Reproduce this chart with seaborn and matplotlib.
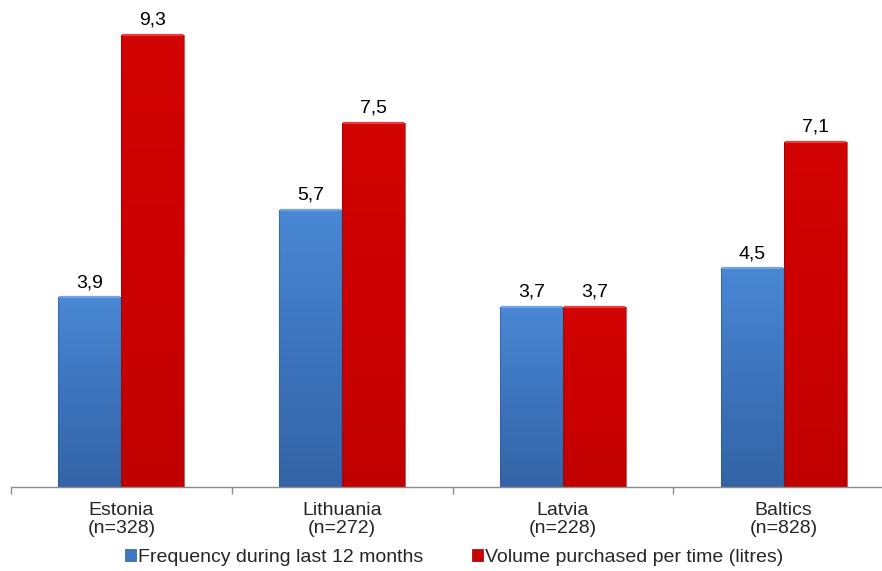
import numpy as np
import pandas as pd
import matplotlib
matplotlib.use("Agg")
import matplotlib.pyplot as plt
from matplotlib.patches import Patch
from matplotlib.colors import LinearSegmentedColormap
import seaborn as sns

countries = ["Estonia", "Lithuania", "Latvia", "Baltics"]
sample_sizes = ["(n=328)", "(n=272)", "(n=228)", "(n=828)"]
series_names = ["Frequency during last 12 months", "Volume purchased per time (litres)"]
frequency = [3.9, 5.7, 3.7, 4.5]
volume = [9.3, 7.5, 3.7, 7.1]

df = pd.DataFrame({
    "country": countries * 2,
    "series": [series_names[0]] * 4 + [series_names[1]] * 4,
    "value": frequency + volume,
})

sns.set_theme(style="white")
plt.rcParams["font.family"] = ["Liberation Sans", "DejaVu Sans"]

FS = 14
W, H = 882, 571
fig = plt.figure(figsize=(W / 100, H / 100), dpi=100)
ax = fig.add_axes([11 / W, (H - 487) / H, 883 / W, 486 / H])

blue_mid = "#3F78C2"
red_mid = "#CC0000"
sns.barplot(data=df, x="country", y="value", hue="series", order=countries,
            hue_order=series_names, palette=[blue_mid, red_mid], width=0.57,
            gap=0, legend=False, ax=ax, linewidth=0, saturation=1)

ax.set_ylim(0, 10)
ax.set_xlim(-0.5, 3.5)

# shaded fill for each bar, clipped to the bar rectangle
blue_cmap = LinearSegmentedColormap.from_list("b", ["#3464A6", "#3D74BD", "#4A88D4"])
red_cmap = LinearSegmentedColormap.from_list("r", ["#C00000", "#CC0000", "#D20404"])
grad = np.linspace(0, 1, 256).reshape(-1, 1)
for p in ax.patches:
    x0, y0 = p.get_x(), p.get_y()
    w, h = p.get_width(), p.get_height()
    is_blue = p.get_facecolor()[2] > 0.5
    cmap = blue_cmap if is_blue else red_cmap
    im = ax.imshow(grad, cmap=cmap, origin="lower", aspect="auto",
                   extent=[x0, x0 + w, y0, y0 + h], zorder=p.get_zorder() + 0.1)
    im.set_clip_path(p)
    edge = "#2E5A94" if is_blue else "#8E0000"
    ax.add_patch(plt.Rectangle((x0, y0), w, h, fill=False, edgecolor=edge,
                               linewidth=0.8, alpha=0.6, zorder=p.get_zorder() + 0.2))
    top = "#6FA3E6" if is_blue else "#EE3A3A"
    ax.plot([x0 + 0.004, x0 + w - 0.004], [y0 + h, y0 + h], color=top, lw=1.6,
            solid_capstyle="butt", zorder=p.get_zorder() + 0.3)
    ax.annotate(f"{h:.1f}".replace(".", ","), (x0 + w / 2, y0 + h),
                xytext=(0, 4.5), textcoords="offset points", ha="center", va="bottom",
                fontsize=FS, color="#000000")

ax.set_xlim(-0.5, 3.5)
ax.set_ylim(0, 10)

for s in ["top", "right", "left"]:
    ax.spines[s].set_visible(False)
ax.spines["bottom"].set_color("#8C8C8C")
ax.spines["bottom"].set_linewidth(1.0)
ax.set_yticks([])
ax.set_xlabel("")
ax.set_ylabel("")

ax.set_xticks([-0.5, 0.5, 1.5, 2.5, 3.5])
ax.set_xticklabels([])
ax.tick_params(axis="x", which="major", length=5, width=1, color="#8C8C8C", bottom=True)
ax.set_xticks(range(4), minor=True)
ax.set_xticklabels([f"{c}\n{n}" for c, n in zip(countries, sample_sizes)], minor=True,
                   fontsize=FS, linespacing=1.05)
ax.tick_params(axis="x", which="minor", length=0, pad=11)

handles = [Patch(facecolor="#3F78C2", edgecolor="#2E5A94", linewidth=0.5),
           Patch(facecolor="#CC0000", edgecolor="#8E0000", linewidth=0.5)]
fig.legend(handles, series_names, loc="lower center", bbox_to_anchor=(0.515, -0.004),
           ncol=2, frameon=False, fontsize=FS, handlelength=0.57, handleheight=0.57,
           handletextpad=0.12, columnspacing=2.5, borderaxespad=0)

fig.savefig("out.png", dpi=100)
